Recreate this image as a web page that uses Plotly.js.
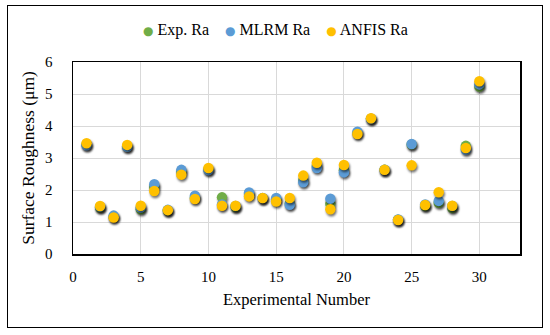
<!DOCTYPE html>
<html><head><meta charset="utf-8">
<script src="https://cdn.plot.ly/plotly-3.0.1.min.js"></script>
<style>
body{margin:0;padding:0;background:#fff;}
#wrap{position:relative;width:550px;height:335px;}
#chart{width:550px;height:335px;}
#frame{position:absolute;left:7px;top:5px;width:534px;height:321px;border:1.5px solid #000;pointer-events:none;}
.scatterlayer .point{filter:drop-shadow(1px 2px 1.2px rgba(0,0,0,0.55));}
</style>
</head><body>
<div id="wrap"><div id="chart"></div><div id="frame"></div></div>
<script>
const expNo = [1,2,3,4,5,6,7,8,9,10,11,12,13,14,15,16,17,18,19,20,21,22,23,24,25,26,27,28,29,30];
const expRa = [3.42,1.45,1.16,3.36,1.40,2.10,1.36,2.58,1.76,2.64,1.77,1.47,1.88,1.74,1.70,1.58,2.30,2.75,1.57,2.62,3.78,4.23,2.63,1.07,3.42,1.50,1.60,1.44,3.38,5.23];
const mlrmRa = [3.40,1.48,1.20,3.35,1.45,2.18,1.38,2.63,1.82,2.62,1.55,1.50,1.92,1.75,1.75,1.54,2.24,2.69,1.73,2.55,3.82,4.23,2.63,1.08,3.44,1.55,1.66,1.50,3.26,5.30];
const anfisRa = [3.46,1.50,1.14,3.41,1.51,1.97,1.37,2.48,1.72,2.69,1.51,1.51,1.80,1.75,1.64,1.75,2.45,2.85,1.40,2.78,3.75,4.24,2.63,1.06,2.77,1.53,1.93,1.51,3.31,5.40];
const seriesNames = ['Exp. Ra','MLRM Ra','ANFIS Ra'];
const colors = ['#70AD47','#5B9BD5','#FFC000'];
const xTicks = [0,5,10,15,20,25,30];
const yTicks = [0,1,2,3,4,5,6];

const font = 'Liberation Serif, serif';
const traces = [expRa, mlrmRa, anfisRa].map((ys, i) => ({
  type: 'scatter', mode: 'markers', x: expNo, y: ys, name: seriesNames[i],
  marker: {color: colors[i], size: 10.5, line: {width: 0}}
}));

const legendText = seriesNames.map((n, i) =>
  `<span style="color:${colors[i]};font-size:12px;font-family:DejaVu Sans">●</span> ${n}`
).join('\u2003');

const layout = {
  width: 550, height: 335,
  margin: {l: 73, r: 30, t: 62, b: 81},
  paper_bgcolor: '#fff', plot_bgcolor: '#fff',
  font: {family: font, size: 14, color: '#000'},
  showlegend: false,
  annotations: [{
    xref: 'paper', yref: 'paper', x: (275 - 73) / 447, y: 1 + (62 - 30) / 192,
    xanchor: 'center', yanchor: 'middle', showarrow: false,
    text: legendText, font: {family: font, size: 16, color: '#000'}
  }],
  xaxis: {
    range: [0, 33], tickvals: xTicks, showgrid: true, gridcolor: '#d9d9d9', gridwidth: 1,
    showline: true, linecolor: '#000', linewidth: 1.5, mirror: true, zeroline: false,
    ticks: '', ticklabelstandoff: 8, tickfont: {family: font, size: 15},
    title: {text: 'Experimental Number', font: {family: font, size: 16.5}, standoff: 10}
  },
  yaxis: {
    range: [0, 6], tickvals: yTicks, showgrid: true, gridcolor: '#d9d9d9', gridwidth: 1,
    showline: true, linecolor: '#000', linewidth: 1.5, mirror: true, zeroline: false,
    ticks: '', ticklabelstandoff: 16, tickfont: {family: font, size: 15},
    title: {text: 'Surface Roughness (μm)', font: {family: font, size: 17.5}, standoff: 6}
  }
};
Plotly.newPlot('chart', traces, layout, {displayModeBar: false, staticPlot: true});
</script>
</body></html>
